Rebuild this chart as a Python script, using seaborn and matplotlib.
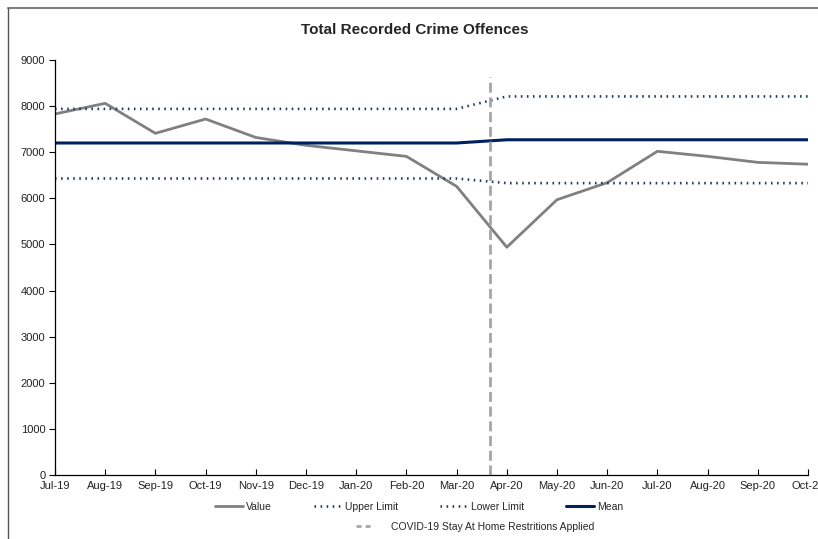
import matplotlib
matplotlib.use("Agg")
import matplotlib.pyplot as plt
import matplotlib.lines as mlines
import seaborn as sns
import pandas as pd

months = ["Jul-19", "Aug-19", "Sep-19", "Oct-19", "Nov-19", "Dec-19", "Jan-20", "Feb-20",
          "Mar-20", "Apr-20", "May-20", "Jun-20", "Jul-20", "Aug-20", "Sep-20", "Oct-20"]
value = [7830, 8060, 7410, 7720, 7320, 7150, 7030, 6910, 6260, 4940, 5970, 6340, 7020, 6910, 6780, 6740]
upper = [7940] * 9 + [8210] * 7
lower = [6430] * 9 + [6330] * 7
mean = [7200] * 9 + [7270] * 7
covid_x = 8.66
covid_top = 8640

sns.set_theme(style="white")
plt.rcParams["font.family"] = ["Liberation Sans Narrow", "Liberation Sans", "DejaVu Sans"]

fig = plt.figure(figsize=(8.18, 5.39), dpi=100)
ax = fig.add_axes([55/818, 1-475/539, (808-55)/818, (475-60)/539])

df = pd.DataFrame({"x": range(len(months)), "Value": value, "Upper Limit": upper,
                   "Lower Limit": lower, "Mean": mean})

dot = (0, (0.6, 1.7))
sns.lineplot(data=df, x="x", y="Value", ax=ax, color="#808080", lw=2.0)
sns.lineplot(data=df, x="x", y="Upper Limit", ax=ax, color="#1F3864", lw=1.9, linestyle=dot)
sns.lineplot(data=df, x="x", y="Lower Limit", ax=ax, color="#1F3864", lw=1.9, linestyle=dot)
sns.lineplot(data=df, x="x", y="Mean", ax=ax, color="#002060", lw=2.2)
ax.plot([covid_x, covid_x], [0, covid_top], color="#A6A6A6", lw=2.0, linestyle=(0, (3.6, 1.7)))

ax.set_xlim(0, 15)
ax.set_ylim(0, 9000)
ax.set_yticks(range(0, 9001, 1000))
ax.set_xticks(range(len(months)))
ax.set_xticklabels(months)
ax.set_xlabel("")
ax.set_ylabel("")
for s in ["top", "right"]:
    ax.spines[s].set_visible(False)
for s in ["left", "bottom"]:
    ax.spines[s].set_color("black")
    ax.spines[s].set_linewidth(0.9)
ax.tick_params(axis="y", direction="out", length=4, width=0.8, color="black", labelsize=8, pad=3, left=True)
ax.tick_params(axis="x", direction="in", length=4, width=0.8, color="black", labelsize=8, pad=4, bottom=True)
for lab in ax.get_xticklabels() + ax.get_yticklabels():
    lab.set_color("#222222")

fig.text(415/818, 1-30/539, "Total Recorded Crime Offences", ha="center", va="center",
         fontsize=11, fontweight="bold", family=["Liberation Sans Narrow", "Liberation Sans", "DejaVu Sans"])

h1 = [mlines.Line2D([], [], color="#808080", lw=2.0),
      mlines.Line2D([], [], color="#1F3864", lw=1.9, linestyle=dot),
      mlines.Line2D([], [], color="#1F3864", lw=1.9, linestyle=dot),
      mlines.Line2D([], [], color="#002060", lw=2.2)]
fig.legend(h1, ["Value", "Upper Limit", "Lower Limit", "Mean"], ncol=4, loc="center",
           bbox_to_anchor=(419/818, 1-507/539), frameon=False, fontsize=7.5,
           handlelength=2.7, columnspacing=4.0, handletextpad=0.3, borderpad=0, borderaxespad=0)
h2 = [mlines.Line2D([], [], color="#A6A6A6", lw=2.0, linestyle=(0, (1.8, 1.5)))]
fig.legend(h2, ["COVID-19 Stay At Home Restritions Applied"], loc="center",
           bbox_to_anchor=(475/818, 1-527/539), frameon=False, fontsize=7.5,
           handlelength=1.4, handletextpad=2.0, borderpad=0, borderaxespad=0)

# outer frame (top and left edges visible)
fig.add_artist(mlines.Line2D([8/818, 1], [1-8/539, 1-8/539], transform=fig.transFigure, color="#7F7F7F", lw=1.5))
fig.add_artist(mlines.Line2D([8/818, 8/818], [0, 1-8/539], transform=fig.transFigure, color="#555555", lw=1.0))

fig.savefig("out.png", dpi=100)
